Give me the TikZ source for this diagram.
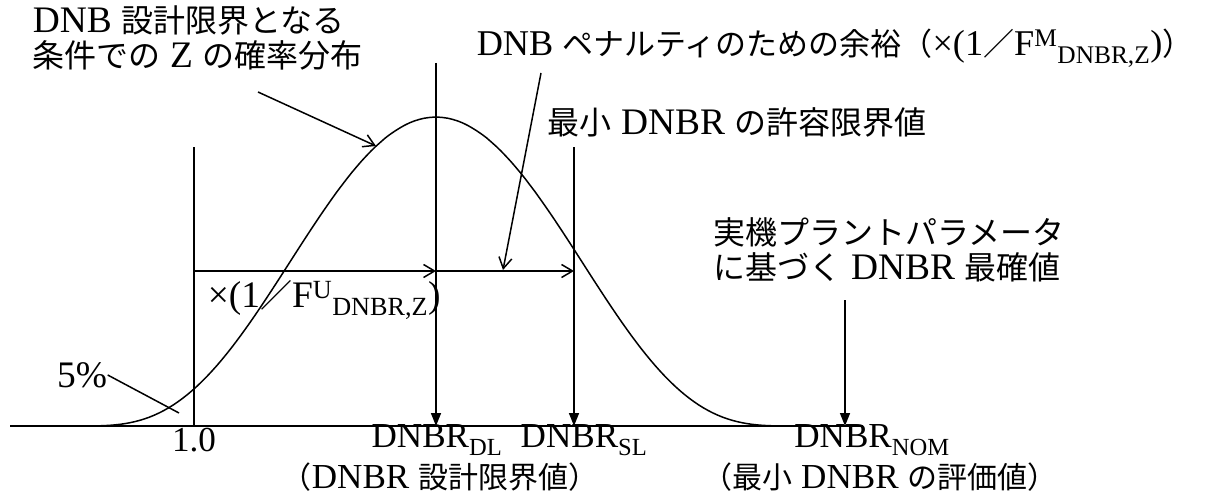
\documentclass[tikz,border=0pt]{standalone}
\usepackage{fontspec}
\setmainfont[Scale=1.17]{Liberation Serif}
\newfontfamily\jp{Noto Sans CJK JP}
\usepackage{tikz}
\usetikzlibrary{arrows.meta}
\usetikzlibrary{positioning}

\begin{document}
\begin{tikzpicture}[x=1pt,y=-1pt,line width=1.5pt,
  lbl/.style={inner sep=0pt,font=\fontsize{32}{35}\selectfont,align=left},
  low/.style={lbl,font=\fontsize{30}{33}\selectfont},
  ptr/.style={-{Straight Barb[length=11pt,width=13pt]}},
  dn/.style={-{Triangle[length=13pt,width=10pt]}}]
\useasboundingbox (0,0) rectangle (1205,495);
\node[lbl,anchor=north west] (dist) at (32,5) {DNB {\jp 設計限界となる}\\{\jp 条件での} Z {\jp の確率分布}};
\node[lbl,anchor=west,font=\fontsize{31}{33}\selectfont] (pen) at (476,48) {DNB {\jp ペナルティのための余裕（}×(1{\jp ／}F\textsuperscript{M}\textsubscript{DNBR,Z}){\jp ）}};
\node[lbl,anchor=west] (lim) at (547,122) {{\jp 最小} DNBR {\jp の許容限界値}};
\node[lbl,anchor=west] (best) at (713,250) {{\jp 実機プラントパラメータ}\\{\jp に基づく} DNBR {\jp 最確値}};
\node[lbl] (pct) at (82,375) {5\%};
\node[lbl,anchor=west] (fu) at (207,300) {×(1{\jp ／}F\textsuperscript{U}\textsubscript{DNBR,Z})};
\node[low] (one) at (194,440) {1.0};
\node[low] (dl) at (437,440) {DNBR\textsubscript{DL}};
\node[low] (sl) at (584,440) {DNBR\textsubscript{SL}};
\node[low] (dlj) at (440,477) {{\jp （}DNBR {\jp 設計限界値）}};
\node[low] (nom) at (872,440) {DNBR\textsubscript{NOM}};
\node[low] (nomj) at (880,477) {{\jp （最小} DNBR {\jp の評価値）}};

\coordinate (ax0) at (10,426);
\coordinate (ax1) at (863,426);
\coordinate (one0) at (194,147);
\coordinate (one1) at (194,426);
\coordinate (dl0) at (436,63);
\coordinate (dl1) at (436,426);
\coordinate (sl0) at (574,147);
\coordinate (sl1) at (574,426);
\coordinate (nom0) at (845,300);
\coordinate (nom1) at (845,426);
\coordinate (hu0) at (194,271);
\coordinate (hu1) at (436,271);
\coordinate (hm1) at (574,271);
\coordinate (p1) at (258,92);
\coordinate (p1e) at (376,146);
\coordinate (p2) at (541,73);
\coordinate (p2e) at (503,270);
\coordinate (tail) at (179,413);

\draw (ax0) -- (ax1);
\draw plot[domain=-359:359,samples=150] ({436+\x},{426-309*max(1-(\x/359)^2,0.00001)^3.5});
\draw (one0) -- (one1);
\draw[dn] (dl0) -- (dl1);
\draw[dn] (sl0) -- (sl1);
\draw[dn] (nom0) -- (nom1);
\draw[ptr] (hu0) -- (hu1);
\draw[ptr] (hu1) -- (hm1);
\draw[ptr] (p1) -- (p1e);
\draw[ptr] (p2) -- (p2e);
\draw (pct.east) -- (tail);
\end{tikzpicture}
\end{document}
